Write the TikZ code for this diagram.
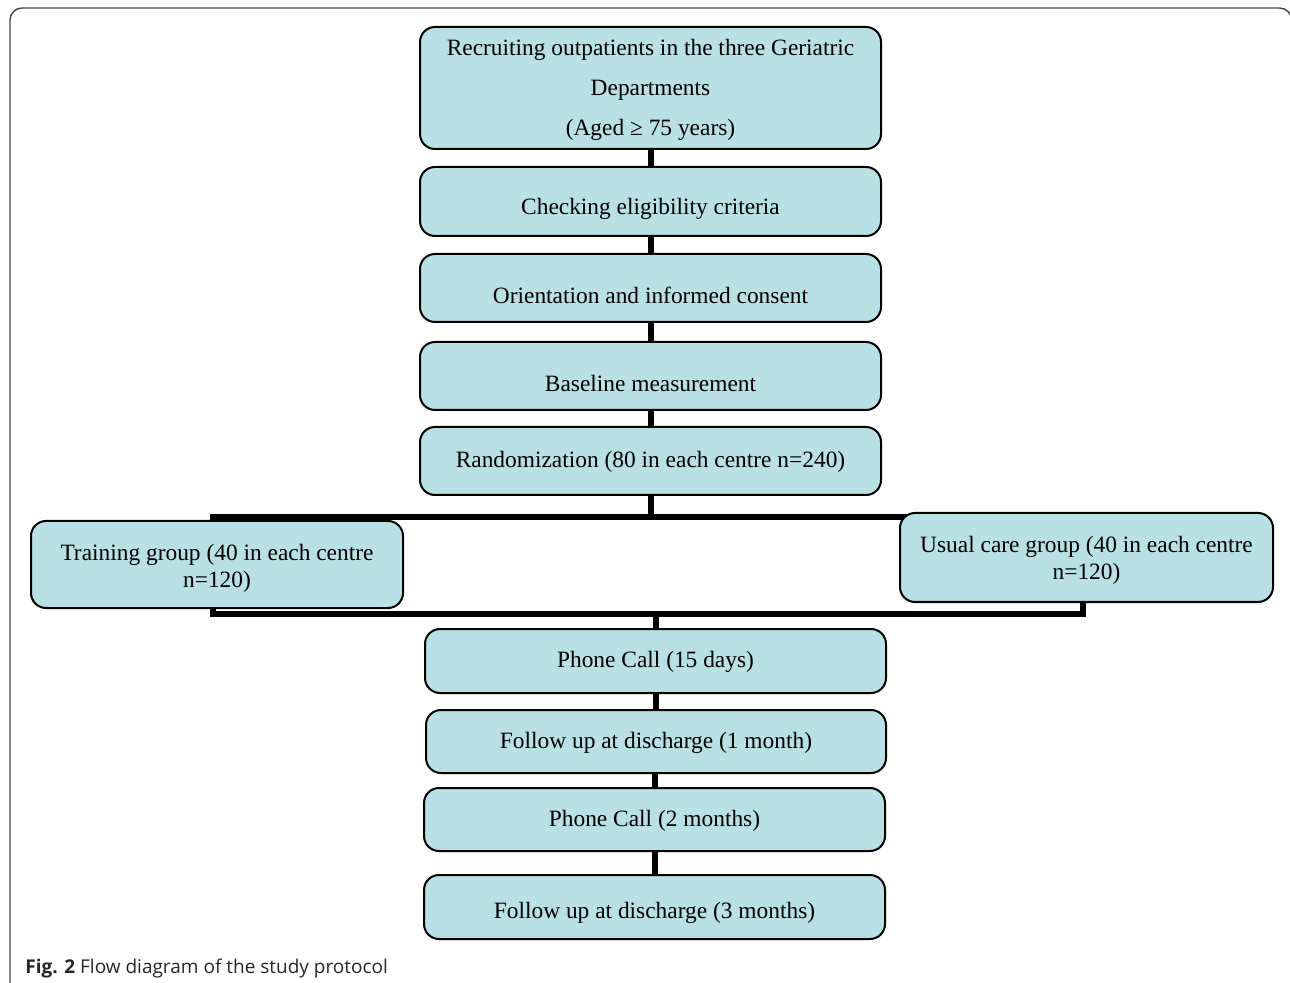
\documentclass[tikz,border=0pt]{standalone}
\usepackage{fontspec}
\setmainfont{Liberation Serif}
\newfontfamily\capfont{Open Sans}
\usetikzlibrary{backgrounds}
\definecolor{boxfill}{RGB}{185,224,228}
\definecolor{framegray}{RGB}{70,70,70}
\tikzset{
  stagebox/.style={draw=black, line width=1pt, fill=boxfill, rounded corners=7.5pt,
    align=center, inner sep=2pt, font=\fontsize{11.7}{13.5}\selectfont},
  % single-line boxes: fixed text box so the label sits a little low
  oneline/.style={text height=#1, text depth=2.6pt},
  link/.style={line width=3pt, black},
}
% strut that pushes the first line of a multi-line box down
\newcommand\toppad[1]{\rule{0pt}{#1}}
\begin{document}
\begin{tikzpicture}[x=0.5pt, y=-0.5pt]
\useasboundingbox (0,0) rectangle (1290,983);
\clip (0,0) rectangle (1290,983);
% outer frame
\draw[framegray, line width=0.7pt, rounded corners=6pt] (10,1010) -- (10,8) -- (1291.5,8) -- (1291.5,1010);

% main column
\node[stagebox, minimum width=230.5pt, minimum height=61pt, font=\fontsize{11.7}{20}\selectfont]
  (recruit) at (650.5,88) {\toppad{10pt}Recruiting outpatients in the three Geriatric\\ Departments\\ (Aged ≥ 75 years)};
\node[stagebox, oneline=15.2pt, minimum width=230.5pt, minimum height=34.5pt] (check) at (650.5,201.5) {Checking eligibility criteria};
\node[stagebox, oneline=18.2pt, minimum width=230.5pt, minimum height=34pt] (consent) at (650.5,288) {Orientation and informed consent};
\node[stagebox, oneline=18.2pt, minimum width=230.5pt, minimum height=34pt] (base) at (650.5,376) {Baseline measurement};
\node[stagebox, oneline=8.7pt, minimum width=230.5pt, minimum height=34pt] (random) at (650.5,461) {Randomization (80 in each centre n=240)};

% two arms
\node[stagebox, minimum width=186pt, minimum height=43.5pt] (train) at (217,564.5) {\toppad{12pt}Training group (40 in each centre\\ n=120)};
\node[stagebox, minimum width=186.5pt, minimum height=44.5pt] (usual) at (1086.5,557.5) {\toppad{11pt}Usual care group (40 in each centre\\ n=120)};

% follow-up column
\node[stagebox, oneline=9.2pt, minimum width=230.5pt, minimum height=32pt] (call1) at (655.5,661) {Phone Call (15 days)};
\node[stagebox, oneline=9.7pt, minimum width=230pt, minimum height=31.5pt] (fu1) at (656,741.5) {Follow up at discharge (1 month)};
\node[stagebox, oneline=9.2pt, minimum width=230.5pt, minimum height=31.5pt] (call2) at (654.5,819.5) {Phone Call (2 months)};
\node[stagebox, oneline=14.2pt, minimum width=230.5pt, minimum height=32pt] (fu3) at (654.5,907) {Follow up at discharge (3 months)};

% connectors behind the boxes
\coordinate (tl) at (213,517);
\coordinate (tr) at (1083,517);
\coordinate (br) at (1083,614);
\coordinate (bl) at (213,614);
\begin{scope}[on background layer]
  \draw[link] (recruit.south) -- (check.north);
  \draw[link] (check.south) -- (consent.north);
  \draw[link] (consent.south) -- (base.north);
  \draw[link] (base.south) -- (random.north);
  \draw[link] (random.south) -- (random.south |- tl);
  \draw[link] (tl) -- (tr) -- (br) -- (bl) -- cycle;
  \draw[link] (call1.north |- bl) -- (call1.north);
  \draw[link] (call1.south) -- (call1.south |- fu1.north);
  \draw[link] (call2.north |- fu1.south) -- (call2.north);
  \draw[link] (call2.south) -- (fu3.north);
\end{scope}

% caption
\node[anchor=base west, inner sep=0pt, font=\capfont\fontsize{9.5}{11}\selectfont, text=black!85] (caption) at (25,973)
  {\textbf{Fig. 2} Flow diagram of the study protocol};
\end{tikzpicture}
\end{document}
